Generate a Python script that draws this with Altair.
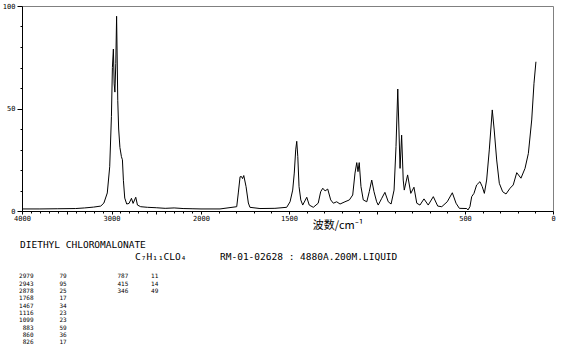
import altair as alt
import pandas as pd

# Raman spectrum (wavenumber cm-1, relative intensity)
wavenumber = [
    4000, 3800, 3600, 3400, 3300, 3200, 3120, 3085, 3047, 3020,
    3001, 2990, 2979, 2970, 2962, 2952, 2943, 2930, 2920, 2906,
    2889, 2878, 2867, 2852, 2830, 2804, 2777, 2759, 2729, 2710,
    2674, 2599, 2500, 2400, 2300, 2200, 2100, 2000,
    1892, 1797, 1788, 1778, 1770, 1764, 1757, 1744, 1731, 1722,
    1665, 1580, 1513, 1494, 1479, 1470, 1462, 1456, 1450, 1443,
    1433, 1422, 1399, 1385, 1362, 1334, 1320, 1308, 1295, 1280,
    1263, 1248, 1229, 1210, 1182, 1157, 1138, 1125, 1115, 1108,
    1101, 1091, 1078, 1058, 1044, 1030, 1017, 1002, 993, 973,
    955, 936, 920, 903, 892, 882, 869, 860, 851, 845,
    826, 808, 790, 774, 756, 733, 709, 680, 655, 632,
    601, 572, 551, 532, 490, 483, 472, 462, 449, 434,
    415, 402, 390, 377, 362, 345, 334, 320, 305, 286,
    267, 244, 226, 206, 182, 159, 140, 121, 108, 97,
]
intensity = [
    1.0, 1.0, 1.1, 1.2, 1.5, 1.9, 2.4, 3.9, 8.8, 21.6,
    46, 70, 79, 62, 58, 72, 95, 54, 40, 31,
    26.5, 25, 15, 6.3, 3.4, 3.7, 6.2, 3.7, 6.7, 2.9,
    2.1, 1.8, 1.6, 1.3, 1.5, 1.2, 1.1, 1.0,
    1.0, 2.1, 8.8, 16.7, 16.8, 15.8, 17.3, 11.9, 3.9, 1.8,
    1.2, 1.3, 1.8, 4.5, 10.2, 18.5, 29.8, 34, 26.5, 11.9,
    5.4, 2.9, 6.7, 2.9, 1.8, 3.8, 9.4, 11.1, 9.8, 10.7,
    5.4, 3.8, 4.5, 3.4, 4.5, 5.4, 7.8, 18.5, 23.6, 19.2,
    23.6, 11.9, 5.4, 4.5, 9.4, 15.1, 9.4, 4.5, 2.9, 6.2,
    9.1, 4.5, 3.4, 10.2, 31.4, 59.5, 20.8, 37, 15.1, 10.2,
    17.6, 8.6, 11.6, 3.8, 2.9, 5.9, 2.9, 7.0, 2.4, 2.1,
    4.5, 8.9, 3.8, 1.3, 1.2, 0.5, 2.1, 7.0, 8.6, 12.7,
    14.3, 11.9, 8.6, 15.1, 29.8, 49.3, 39.5, 24.9, 13.5, 9.4,
    8.3, 11.1, 12.7, 18.7, 16.0, 20.8, 28.1, 44.4, 62.3, 72.8,
]

# peak table
peaks_wn_1 = ["2979", "2943", "2878", "1768", "1467", "1116", "1099", "883", "860", "826"]
peaks_int_1 = ["79", "95", "25", "17", "34", "23", "23", "59", "36", "17"]
peaks_wn_2 = ["787", "415", "346"]
peaks_int_2 = ["11", "14", "49"]

x_ticks = list(range(0, 4001, 100))
x_labels = [4000, 3000, 2000, 1500, 500, 0]
y_ticks = list(range(0, 101, 10))

compound = "DIETHYL CHLOROMALONATE"
formula = "C₇H₁₁CLO₄"
info = "RM-01-02628 : 4880A.200M.LIQUID"
x_title = "波数/cm⁻¹"

MONO = "DejaVu Sans Mono"

spec_df = pd.DataFrame({"wn": wavenumber, "i": intensity})

label_test = " || ".join(f"datum.value == {v}" for v in x_labels)

spectrum = alt.Chart(spec_df).mark_line(color="black", strokeWidth=1).encode(
    x=alt.X(
        "wn:Q",
        scale=alt.Scale(domain=[4000, 2000, 0], range=[0, 179, 531], nice=False, zero=False),
        axis=alt.Axis(
            values=x_ticks,
            labelExpr=f"({label_test}) ? datum.label : ''",
            format="d",
            title=None,
            grid=False,
            tickSize={"condition": {"test": "datum.value % 500 === 0", "value": 3}, "value": 2},
            tickColor="black",
            domainColor="black",
            labelFont=MONO,
            labelFontSize=7,
            labelColor="black",
            labelPadding=0,
            labelOverlap=False,
            labelFlush=False,
        ),
    ),
    y=alt.Y(
        "i:Q",
        scale=alt.Scale(domain=[0, 100], nice=False),
        axis=alt.Axis(
            values=y_ticks,
            labelExpr="datum.value % 50 === 0 ? datum.label : ''",
            title=None,
            grid=False,
            tickSize={"condition": {"test": "datum.value % 50 === 0", "value": 5}, "value": 2},
            tickColor="black",
            domainColor="black",
            labelFont=MONO,
            labelFontSize=7,
            labelColor="black",
            labelPadding=2,
            labelOverlap=False,
            labelFlush=False,
        ),
    ),
)

def note(text, x, y, size, font=MONO, align="left"):
    return alt.Chart(pd.DataFrame({"t": [text]})).mark_text(
        font=font, fontSize=size, align=align, baseline="middle", color="black"
    ).encode(x=alt.value(x), y=alt.value(y), text="t:N")

title_txt = note(x_title, 316, 220, 11, font="Noto Sans CJK SC", align="center")
name_txt = note(compound, -2, 239, 9.5)
formula_txt = note(formula, 113, 251, 9.5)
info_txt = note(info, 198, 251, 9.5)

row_scale = alt.Scale(domain=[0, 9], range=[270.3, 336.3])

def column(values, xpos):
    df = pd.DataFrame({"row": list(range(len(values))), "t": values})
    return alt.Chart(df).mark_text(
        font=MONO, fontSize=6, align="right", baseline="middle", color="black"
    ).encode(
        x=alt.value(xpos),
        y=alt.Y("row:Q", scale=row_scale, axis=None),
        text="t:N",
    )

table = [
    column(peaks_wn_1, 11.5),
    column(peaks_int_1, 44.7),
    column(peaks_wn_2, 106.3),
    column(peaks_int_2, 136.3),
]

chart = alt.layer(
    spectrum, title_txt, name_txt, formula_txt, info_txt, *table
).resolve_scale(y="independent").properties(
    width=531,
    height=205,
    padding={"left": 22, "top": 6, "right": 17, "bottom": 148},
    autosize=alt.AutoSizeParams(type="none"),
    background="white",
).configure_view(stroke="#808080", strokeWidth=1)

chart.save("out.html", embed_options={"renderer": "svg", "actions": False})
